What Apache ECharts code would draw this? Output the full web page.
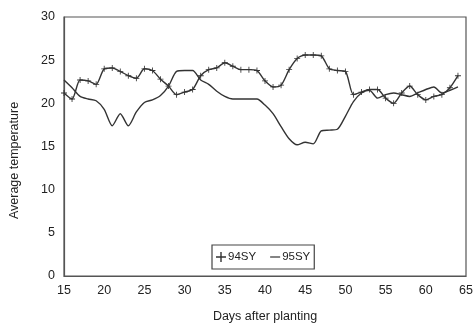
<!DOCTYPE html>
<html><head><meta charset="utf-8">
<script src="https://cdn.jsdelivr.net/npm/echarts@6/dist/echarts.min.js"></script>
<style>html,body{margin:0;padding:0;background:#fff}#c{width:475px;height:324px}</style>
</head><body><div id="c"></div>
<script>
const days = [15,16,17,18,19,20,21,22,23,24,25,26,27,28,29,30,31,32,33,34,35,36,37,38,39,40,41,42,43,44,45,46,47,48,49,50,51,52,53,54,55,56,57,58,59,60,61,62,63,64];
const sy94 = [21.2,20.5,22.7,22.6,22.2,24.0,24.1,23.7,23.2,22.9,24.0,23.8,22.8,22.0,21.0,21.3,21.6,23.2,23.9,24.1,24.7,24.3,23.9,23.9,23.8,22.6,21.9,22.1,23.9,25.2,25.6,25.6,25.5,24.0,23.8,23.7,21.0,21.3,21.6,21.6,20.6,20.0,21.2,22.0,21.0,20.4,20.8,21.0,21.8,23.2];
const sy95 = [22.7,21.8,20.8,20.5,20.3,19.3,17.4,18.8,17.4,19.0,20.1,20.4,20.9,22.0,23.7,23.8,23.8,22.7,22.2,21.4,20.8,20.5,20.5,20.5,20.5,19.8,18.8,17.3,15.9,15.2,15.5,15.3,16.8,16.9,17.0,18.5,20.2,21.2,21.5,20.6,21.0,21.2,21.0,20.8,21.2,21.6,21.9,21.2,21.5,21.9];
const xTicks = [15,20,25,30,35,40,45,50,55,60,65];
const yTicks = [0,5,10,15,20,25,30];
const names = ['94SY','95SY'];

const plus = 'path://M4.3,0H5.7V10H4.3Z M0,4.3H10V5.7H0Z';
const dash = 'path://M0,4.4H10V5.6H0Z';
const font = 'Liberation Sans';
const ink = '#222';
const chart = echarts.init(document.getElementById('c'));
chart.setOption({
  backgroundColor:'#fff',
  animation:false,
  grid:{left:64,right:9,top:17,bottom:48,show:true,borderColor:'#555',borderWidth:1.2,
    containLabel:false,outerBoundsMode:'none'},
  xAxis:{type:'value',min:xTicks[0],max:xTicks[xTicks.length-1],interval:5,
    name:'Days after planting',nameLocation:'middle',nameGap:34,
    nameTextStyle:{fontFamily:font,fontSize:12.5,color:ink},
    axisLine:{show:true,lineStyle:{color:'#555',width:1.2}},
    axisTick:{show:false},splitLine:{show:false},
    axisLabel:{fontFamily:font,fontSize:12.5,color:ink,margin:8}},
  yAxis:{type:'value',min:yTicks[0],max:yTicks[yTicks.length-1],interval:5,
    name:'Average temperature',nameLocation:'middle',nameGap:43,
    nameTextStyle:{fontFamily:font,fontSize:12.5,color:ink,padding:[0,28,0,0]},
    axisLine:{show:true,lineStyle:{color:'#555',width:1.2}},
    axisTick:{show:false},splitLine:{show:false},
    axisLabel:{fontFamily:font,fontSize:12.5,color:ink,margin:9}},
  legend:{left:212,top:245,orient:'horizontal',borderColor:'#444',borderWidth:1.2,
    padding:[6,4,6,4],itemGap:14,itemWidth:10,itemHeight:10,
    textStyle:{fontFamily:font,fontSize:11.5,color:ink,padding:[0,0,3,-3]},
    data:[{name:names[0],icon:plus},{name:names[1],icon:dash}]},
  series:[
    {name:names[0],type:'line',data:days.map((d,i)=>[d,sy94[i]]),smooth:0.25,
     symbol:plus,symbolSize:6,showSymbol:true,
     itemStyle:{color:'#333'},lineStyle:{color:'#333',width:1.4}},
    {name:names[1],type:'line',data:days.map((d,i)=>[d,sy95[i]]),smooth:0.25,
     symbol:'none',itemStyle:{color:'#333'},lineStyle:{color:'#333',width:1.4}}
  ]
});
</script></body></html>
